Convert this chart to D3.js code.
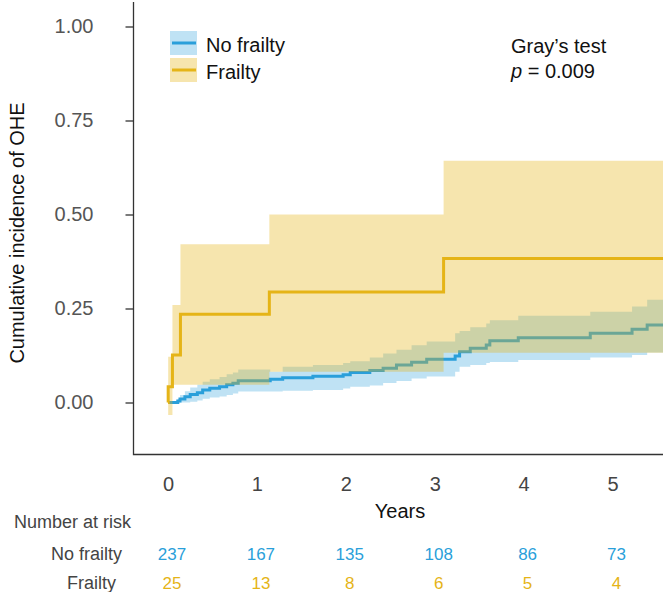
<!DOCTYPE html>
<html>
<head>
<meta charset="utf-8">
<script src="https://cdn.jsdelivr.net/npm/d3@7"></script>
<style>
body { margin: 0; background: #fff; }
svg { display: block; font-family: "Liberation Sans", Arial, sans-serif; }
</style>
</head>
<body>
<div id="chart"></div>
<script>
// cumulative incidence of OHE
var noFrailtyTime = [0, 0.11, 0.135, 0.19, 0.25, 0.33, 0.39, 0.47, 0.58, 0.66, 0.73, 0.79, 1.15, 1.29, 1.63, 1.97, 2.05, 2.27, 2.42, 2.57, 2.74, 2.91, 3.23, 3.28, 3.40, 3.58, 3.62, 3.94, 4.75, 5.22, 5.39, 5.57];
var noFrailtyEst  = [0, 0.004, 0.009, 0.015, 0.021, 0.026, 0.033, 0.038, 0.042, 0.047, 0.051, 0.058, 0.062, 0.066, 0.070, 0.074, 0.080, 0.085, 0.091, 0.100, 0.107, 0.115, 0.124, 0.135, 0.144, 0.153, 0.164, 0.172, 0.184, 0.195, 0.206, 0.206];
var noFrailtyLow  = [0, 0, 0, 0, 0.002, 0.005, 0.010, 0.013, 0.016, 0.020, 0.024, 0.029, 0.029, 0.031, 0.033, 0.037, 0.042, 0.045, 0.052, 0.057, 0.064, 0.069, 0.082, 0.095, 0.100, 0.105, 0.108, 0.113, 0.120, 0.126, 0.133, 0.133];
var noFrailtyHigh = [0, 0.010, 0.020, 0.030, 0.040, 0.047, 0.055, 0.062, 0.068, 0.075, 0.080, 0.088, 0.082, 0.095, 0.100, 0.105, 0.110, 0.120, 0.130, 0.140, 0.152, 0.162, 0.184, 0.190, 0.200, 0.210, 0.219, 0.231, 0.2415, 0.255, 0.273, 0.273];

var frailtyTime = [0, 0.002, 0.05, 0.14, 1.14, 3.10, 5.57];
var frailtyEst  = [0, 0.042, 0.126, 0.235, 0.294, 0.383, 0.383];
var frailtyLow  = [0, -0.033, 0.047, 0.047, 0.082, 0.132, 0.132];
var frailtyHigh = [0, 0.122, 0.259, 0.421, 0.500, 0.643, 0.643];

var yTicks = [0, 0.25, 0.5, 0.75, 1];
var xTicks = [0, 1, 2, 3, 4, 5];
var riskNoFrailty = [237, 167, 135, 108, 86, 73];
var riskFrailty = [25, 13, 8, 6, 5, 4];

var BLUE = "#2a9fda";
var GOLD = "#e5b417";

var W = 663, H = 592;

function rows(t, est, lo, hi) {
    return t.map(function(d, i) {
        return {t: d, est: est[i], lo: lo[i], hi: hi[i]};
    });
}

var noFrailty = rows(noFrailtyTime, noFrailtyEst, noFrailtyLow, noFrailtyHigh);
var frailty = rows(frailtyTime, frailtyEst, frailtyLow, frailtyHigh);

var x = d3.scaleLinear().domain([0, 5]).range([168, 612.5]);
var y = d3.scaleLinear().domain([0, 1]).range([402.5, 26.5]);

var svg = d3.select("#chart").append("svg")
    .attr("width", W)
    .attr("height", H);

var band = d3.area()
    .x(function(d) { return x(d.t); })
    .y0(function(d) { return y(d.lo); })
    .y1(function(d) { return y(d.hi); })
    .curve(d3.curveStepAfter);

var line = d3.line()
    .x(function(d) { return x(d.t); })
    .y(function(d) { return y(d.est); })
    .curve(d3.curveStepAfter);

// blue first, gold band goes over it (that gives the greenish overlap)
svg.append("path").datum(noFrailty)
    .attr("d", band).attr("fill", BLUE).attr("fill-opacity", 0.3);
svg.append("path").datum(noFrailty)
    .attr("d", line).attr("fill", "none").attr("stroke", BLUE).attr("stroke-width", 3);
svg.append("path").datum(frailty)
    .attr("d", band).attr("fill", GOLD).attr("fill-opacity", 0.35);
svg.append("path").datum(frailty)
    .attr("d", line).attr("fill", "none").attr("stroke", GOLD).attr("stroke-width", 3);

// axes frame
svg.append("path")
    .attr("d", "M133.5,2V454.5H663")
    .attr("fill", "none").attr("stroke", "#333").attr("stroke-width", 1.3);

var yAxis = svg.append("g")
    .attr("transform", "translate(133.5,0)")
    .call(d3.axisLeft(y).tickValues(yTicks).tickFormat(d3.format(".2f")).tickSize(8).tickPadding(32));
yAxis.select(".domain").remove();
yAxis.selectAll("line").attr("stroke", "#333").attr("stroke-width", 1.3);
yAxis.selectAll("text").attr("font-size", 20).attr("fill", "#555").style("font-family", "Liberation Sans, Arial, sans-serif");

var xAxis = svg.append("g")
    .attr("transform", "translate(0,454.5)")
    .call(d3.axisBottom(x).tickValues(xTicks).tickFormat(d3.format("d")).tickSize(0).tickPadding(22.5));
xAxis.select(".domain").remove();
xAxis.selectAll("text").attr("font-size", 20).attr("fill", "#444").style("font-family", "Liberation Sans, Arial, sans-serif");

svg.append("text")
    .attr("transform", "translate(24,233) rotate(-90)")
    .attr("text-anchor", "middle")
    .attr("font-size", 20).attr("fill", "#111")
    .text("Cumulative incidence of OHE");

svg.append("text")
    .attr("x", 400).attr("y", 518)
    .attr("text-anchor", "middle")
    .attr("font-size", 20).attr("fill", "#111")
    .text("Years");

// legend
var legend = [
    {label: "No frailty", color: BLUE, y: 31},
    {label: "Frailty", color: GOLD, y: 58}
];
legend.forEach(function(d) {
    svg.append("rect")
        .attr("x", 170).attr("y", d.y).attr("width", 27).attr("height", 24)
        .attr("fill", d.color).attr("fill-opacity", d.color === BLUE ? 0.3 : 0.35);
    svg.append("line")
        .attr("x1", 172).attr("x2", 196).attr("y1", d.y + 12).attr("y2", d.y + 12)
        .attr("stroke", d.color).attr("stroke-width", 3);
    svg.append("text")
        .attr("x", 206).attr("y", d.y + 21)
        .attr("font-size", 20).attr("fill", "#111")
        .text(d.label);
});

svg.append("text")
    .attr("x", 511).attr("y", 53)
    .attr("font-size", 20).attr("fill", "#111")
    .text("Gray\u2019s test");
var pText = svg.append("text")
    .attr("x", 511).attr("y", 78)
    .attr("font-size", 20).attr("fill", "#111");
pText.append("tspan").attr("font-style", "italic").text("p");
pText.append("tspan").text(" = 0.009");

// number at risk table
svg.append("text")
    .attr("x", 14).attr("y", 528)
    .attr("font-size", 18).attr("fill", "#444")
    .text("Number at risk");

svg.append("text")
    .attr("x", 122).attr("y", 560).attr("text-anchor", "end")
    .attr("font-size", 18).attr("fill", "#444")
    .text("No frailty");
svg.append("text")
    .attr("x", 116).attr("y", 588.5).attr("text-anchor", "end")
    .attr("font-size", 18).attr("fill", "#444")
    .text("Frailty");

svg.selectAll(".riskNo").data(riskNoFrailty).enter().append("text")
    .attr("x", function(d, i) { return x(xTicks[i]) + 4; })
    .attr("y", 560).attr("text-anchor", "middle")
    .attr("font-size", 17).attr("fill", BLUE)
    .text(function(d) { return d; });

svg.selectAll(".riskYes").data(riskFrailty).enter().append("text")
    .attr("x", function(d, i) { return x(xTicks[i]) + 4; })
    .attr("y", 588.5).attr("text-anchor", "middle")
    .attr("font-size", 17).attr("fill", GOLD)
    .text(function(d) { return d; });
</script>
</body>
</html>
